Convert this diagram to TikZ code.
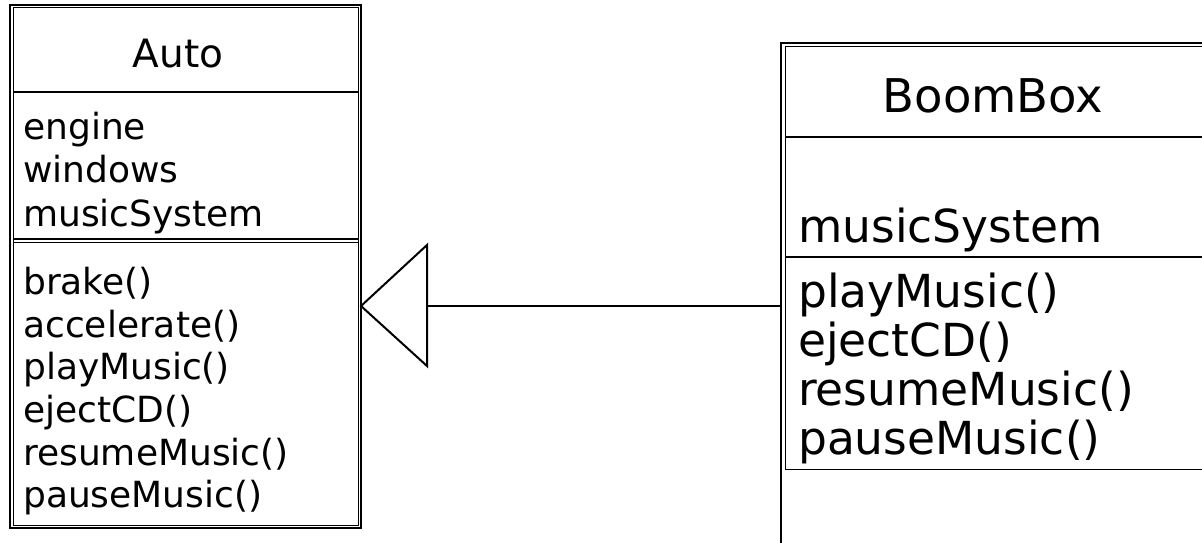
\documentclass[tikz,border=0pt]{standalone}
\usepackage{fontspec}
\setmainfont{DejaVu Sans}
\begin{document}
\begin{tikzpicture}[x=1pt,y=-1pt,
  outerln/.style={line width=1.4pt},
  innerln/.style={line width=1pt},
  sepln/.style={line width=1.5pt},
  linkln/.style={line width=2pt},
  smalltxt/.style={inner sep=0pt,anchor=base west,font=\fontsize{36}{42}\selectfont},
  bigtxt/.style={inner sep=0pt,anchor=base west,font=\fontsize{45.5}{50}\selectfont},
  smalltitle/.style={inner sep=0pt,anchor=base,font=\fontsize{39}{42}\selectfont},
  bigtitle/.style={inner sep=0pt,anchor=base,font=\fontsize{46.5}{50}\selectfont}]
\useasboundingbox[fill=white] (0,0) rectangle (1202,543);
\clip (0,0) rectangle (1202,543);
% Auto class
\draw[outerln] (10,5) rectangle (361,528);
\draw[innerln] (13,8) rectangle (358,525);
\draw[sepln] (13,92) -- (358,92);
\draw[sepln] (13,239) -- (358,239);
\draw[innerln] (13,242.5) -- (358,242.5);
\node[smalltitle] (autoT) at (178,67) {Auto};
\node[smalltxt] (a1) at (23,139) {engine};
\node[smalltxt] (a2) at (23,182) {windows};
\node[smalltxt] (a3) at (23,226) {musicSystem};
\node[smalltxt] (m1) at (23,294) {brake()};
\node[smalltxt] (m2) at (23,337) {accelerate()};
\node[smalltxt] (m3) at (23,379) {playMusic()};
\node[smalltxt] (m4) at (23,422) {ejectCD()};
\node[smalltxt] (m5) at (23,465) {resumeMusic()};
\node[smalltxt] (m6) at (23,507) {pauseMusic()};
% BoomBox class
\draw[line width=2pt] (781,560) -- (781,43) -- (1210,43);
\draw[innerln] (1210,46.5) -- (785,46.5) -- (785,469) -- (1210,469);
\draw[sepln] (785,137) -- (1210,137);
\draw[sepln] (785,257) -- (1210,257);
\node[bigtitle] (boomT) at (993,112) {BoomBox};
\node[bigtxt] (b1) at (798,242) {musicSystem};
\node[bigtxt] (b2) at (798,307) {playMusic()};
\node[bigtxt] (b3) at (798,356) {ejectCD()};
\node[bigtxt] (b4) at (798,405) {resumeMusic()};
\node[bigtxt] (b5) at (798,454) {pauseMusic()};
% generalization
\coordinate (tip) at (361,306);
\coordinate (base) at (427,306);
\coordinate (boomL) at (781,306);
\draw[linkln,line join=miter] (tip) -- (427,245) -- (427,366) -- cycle;
\draw[linkln] (base) -- (boomL);
\end{tikzpicture}
\end{document}
